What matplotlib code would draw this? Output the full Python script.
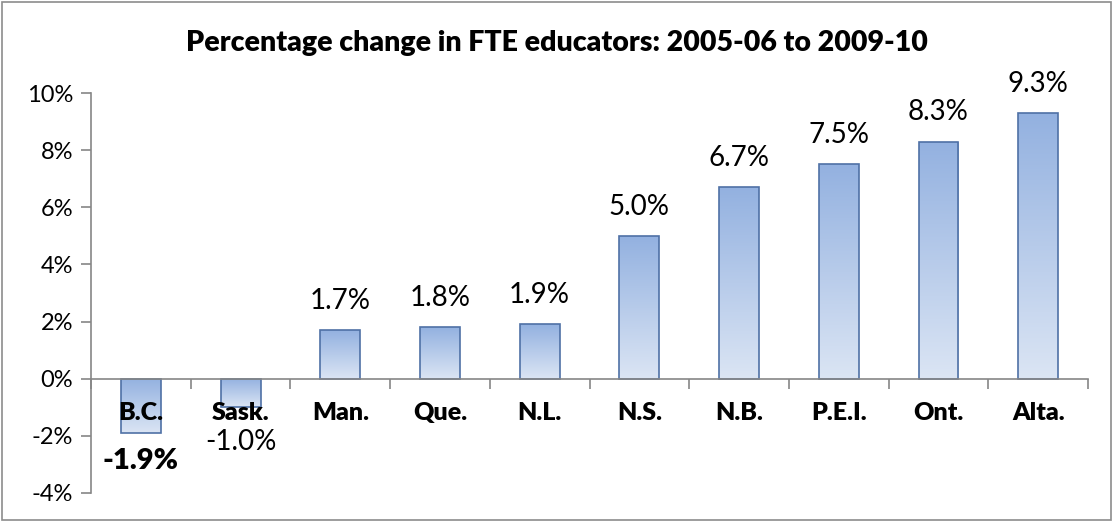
import numpy as np
import matplotlib.pyplot as plt
from matplotlib.colors import LinearSegmentedColormap
from matplotlib.patches import Rectangle

# data
provinces = ['B.C.', 'Sask.', 'Man.', 'Que.', 'N.L.', 'N.S.', 'N.B.', 'P.E.I.', 'Ont.', 'Alta.']
change = [-1.9, -1.0, 1.7, 1.8, 1.9, 5.0, 6.7, 7.5, 8.3, 9.3]
yticks = [-4, -2, 0, 2, 4, 6, 8, 10]

plt.rcParams['font.family'] = ['Lato', 'DejaVu Sans']
grey = '#868686'

fig = plt.figure(figsize=(11.14, 5.22), dpi=100)
ax = fig.add_axes([0.0817, 0.0556, 0.895, 0.7662])

x = np.arange(len(provinces))
bars = ax.bar(x, change, width=0.4, color='none', edgecolor='#4f71a6', linewidth=1.2, zorder=3)

# vertical gradient in each bar, darker at the top
cmap = LinearSegmentedColormap.from_list('g', ['#dbe5f4', '#93b1e0'])
grad = np.linspace(0, 1, 256).reshape(-1, 1)
for b in bars:
    x0, y0 = b.get_x(), b.get_y()
    w, h = b.get_width(), b.get_height()
    lo, hi = min(y0, y0 + h), max(y0, y0 + h)
    im = ax.imshow(grad, cmap=cmap, aspect='auto', origin='lower',
                   extent=[x0, x0 + w, lo, hi], zorder=2)
    im.set_clip_path(b)

ax.set_xlim(-0.5, len(provinces) - 0.5)
ax.set_ylim(-4, 10)

# value labels
for i, v in enumerate(change):
    if v >= 0:
        ax.annotate(f'{v:.1f}%', (i, v), xytext=(0, 21), textcoords='offset points',
                    ha='center', va='center', fontsize=20)
    elif i == 0:
        ax.annotate(f'{v:.1f}%', (i, v), xytext=(0, -20), textcoords='offset points',
                    ha='center', va='center', fontsize=21, fontweight='heavy')
    else:
        ax.annotate(f'{v:.1f}%', (i, v), xytext=(0, -25), textcoords='offset points',
                    ha='center', va='center', fontsize=20)

# category labels just under the zero line
for i, p in enumerate(provinces):
    ax.annotate(p, (i, 0), xytext=(0, -25), textcoords='offset points',
                ha='center', va='center', fontsize=18, fontweight='heavy', zorder=5)

ax.set_yticks(yticks)
ax.set_yticklabels([f'{t}%' for t in yticks], fontsize=17)
ax.set_xticks(np.arange(len(provinces) + 1) - 0.5)
ax.set_xticklabels([])
ax.tick_params(axis='y', length=7, color=grey, width=1.2, pad=6)
ax.tick_params(axis='x', length=7, color=grey, width=1.2, direction='out')

for s in ['top', 'right']:
    ax.spines[s].set_visible(False)
ax.spines['bottom'].set_position(('data', 0))
ax.spines['left'].set_color(grey)
ax.spines['bottom'].set_color(grey)
ax.spines['left'].set_linewidth(1.2)
ax.spines['bottom'].set_linewidth(1.2)
ax.spines['bottom'].set_zorder(4)

fig.text(0.5, 0.918, 'Percentage change in FTE educators: 2005-06 to 2009-10',
         ha='center', va='center', fontsize=20.5, fontweight='heavy')

fig.patches.append(Rectangle((0.002, 0.003), 0.995, 0.994, transform=fig.transFigure,
                             fill=False, edgecolor='#8c8c8c', linewidth=1.2))

fig.savefig('out.png', dpi=100)
